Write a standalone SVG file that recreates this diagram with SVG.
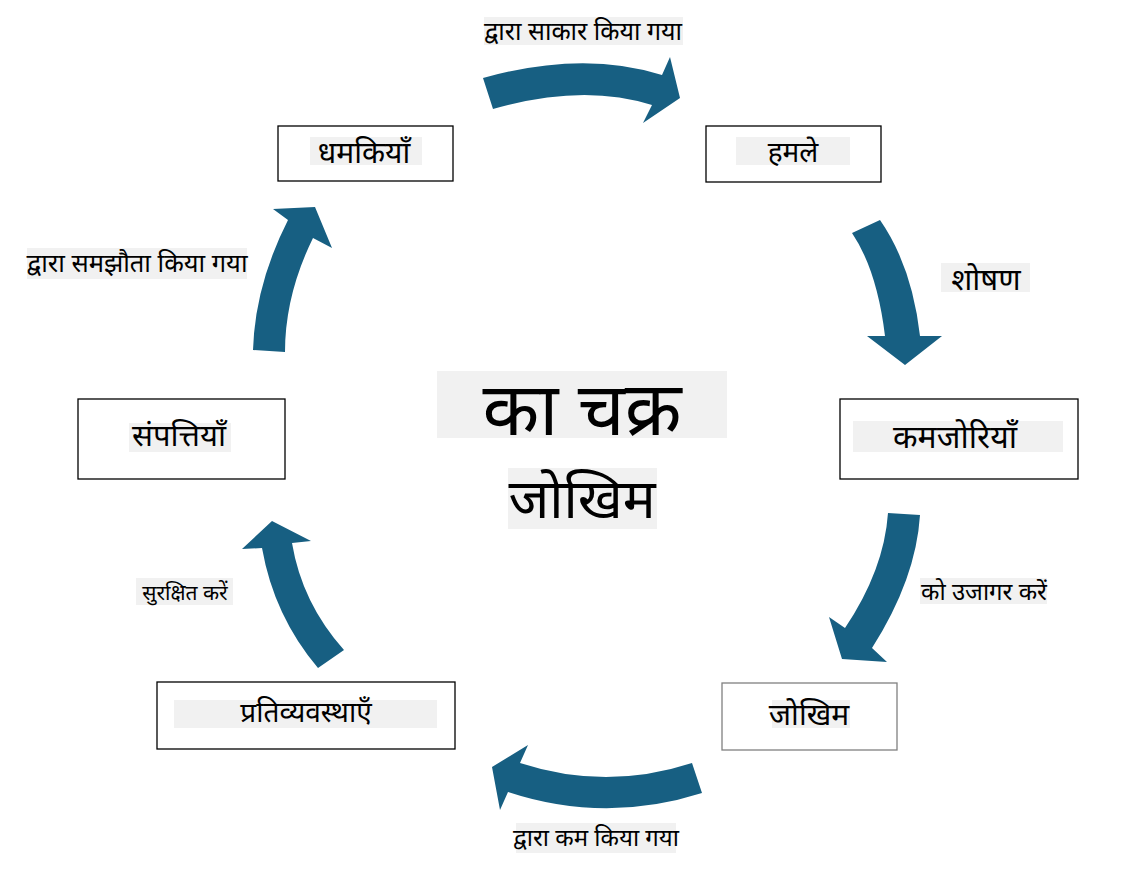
<svg xmlns="http://www.w3.org/2000/svg" width="1121" height="876" viewBox="0 0 1121 876">
<style>
.box{fill:#fff;stroke:#000;stroke-width:1.3}
.hl{fill:#f1f1f1}
.t{font-family:"Noto Sans","Noto Sans Devanagari",sans-serif;fill:#000;text-anchor:middle}
.arr{fill:#175f82}
</style>
<rect width="1121" height="876" fill="#fff"/>
<g id="connectors">
<path class="arr" d="M483,78 Q583,50 662,75 L670,57 L680,98 L643,123 L652,105 Q583,83 493,109 Z"/>
<path class="arr" d="M852,233 L880,220 Q912,266 920,336 L942,336 L905,365 L867,336 L885,336 Q877,270 852,233 Z"/>
<path class="arr" d="M888,513 L920,515 Q916,579 872,648 L887,662 L842,659 L829,617 L845,628 Q884,570 888,513 Z"/>
<path class="arr" d="M692,763 Q606,791 520,763 L528,745 L492,767 L500,810 L508,792 Q605,824 702,793 Z"/>
<path class="arr" d="M318,668 Q274,616 262,548 L242,549 L272,521 L311,541 L292,543 Q302,603 344,650 Z"/>
<path class="arr" d="M253,350 Q255,285 288,220 L273,209 L315,207 L332,248 L313,238 Q285,295 285,352 Z"/>
<g id="lbl-realized"><rect class="hl" x="484" y="17" width="199" height="28"/><text class="t" x="583" y="40" font-size="25">द्वारा साकार किया गया</text></g>
<g id="lbl-exploit"><rect class="hl" x="941" y="263" width="89" height="29"/><text class="t" x="986" y="290" font-size="31">शोषण</text></g>
<g id="lbl-expose"><rect class="hl" x="920" y="578" width="127" height="26"/><text class="t" x="984" y="600" font-size="24">को उजागर करें</text></g>
<g id="lbl-reduced"><rect class="hl" x="516" y="823" width="160" height="30"/><text class="t" x="596" y="846" font-size="24">द्वारा कम किया गया</text></g>
<g id="lbl-protect"><rect class="hl" x="136" y="578" width="97" height="27"/><text class="t" x="185" y="600" font-size="21">सुरक्षित करें</text></g>
<g id="lbl-compromised"><rect class="hl" x="27" y="248" width="220" height="31"/><text class="t" x="137" y="272" font-size="25.5">द्वारा समझौता किया गया</text></g>
</g>
<g id="title">
<rect class="hl" x="437" y="371" width="290" height="67"/>
<text class="t" x="582" y="435" font-size="74">का चक्र</text>
<rect class="hl" x="508" y="468" width="149" height="61"/>
<text class="t" x="582" y="518" font-size="55">जोखिम</text>
</g>
<g id="threats"><rect class="box" x="278" y="126" width="175" height="55"/><rect class="hl" x="310" y="137" width="112" height="28"/><text class="t" x="364" y="163" font-size="30">धमकियाँ</text></g>
<g id="attacks"><rect class="box" x="706" y="126" width="175" height="56"/><rect class="hl" x="736" y="137" width="114" height="28"/><text class="t" x="793" y="162" font-size="28">हमले</text></g>
<g id="weaknesses"><rect class="box" x="840" y="399" width="238" height="80"/><rect class="hl" x="853" y="421" width="210" height="31"/><text class="t" x="955" y="448" font-size="32">कमजोरियाँ</text></g>
<g id="risk"><rect class="box" x="722" y="683" width="175" height="67" style="stroke:#808080"/><rect class="hl" x="772" y="700" width="78" height="28"/><text class="t" x="809" y="725" font-size="30">जोखिम</text></g>
<g id="countermeasures"><rect class="box" x="157" y="682" width="298" height="67"/><rect class="hl" x="174" y="700" width="263" height="28"/><text class="t" x="306" y="722" font-size="28">प्रतिव्यवस्थाएँ</text></g>
<g id="assets"><rect class="box" x="78" y="399" width="207" height="80"/><rect class="hl" x="129" y="423" width="102" height="29"/><text class="t" x="179" y="446" font-size="31">संपत्तियाँ</text></g>
</svg>
